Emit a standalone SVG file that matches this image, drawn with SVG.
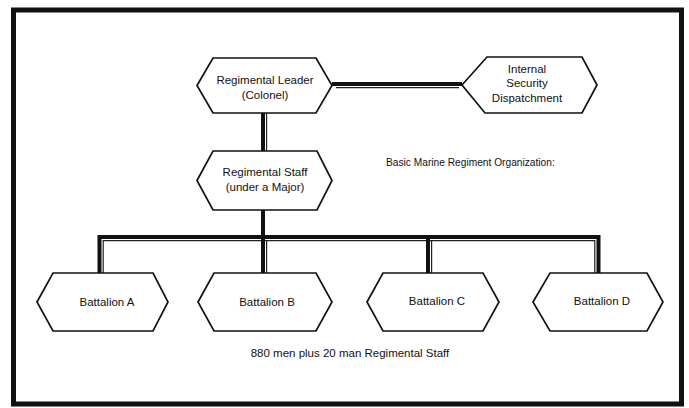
<svg xmlns="http://www.w3.org/2000/svg" width="689" height="408" viewBox="0 0 689 408">
<style>
.hex{fill:#fff;stroke:#111;stroke-width:1.7;stroke-linejoin:miter}
.t{font-family:"Liberation Sans",Arial,sans-serif;font-size:11.5px;fill:#111;text-anchor:middle}
.thick{stroke:#111;stroke-width:4;fill:none}
.thin{stroke:#222;stroke-width:1.2;fill:none}
</style>
<rect x="0" y="0" width="689" height="408" fill="#fff"/>
<rect x="13.5" y="10" width="668" height="394" fill="none" stroke="#111" stroke-width="5"/>
<g id="connectors">
<line class="thick" x1="332" y1="84" x2="462" y2="84"/>
<line class="thin" x1="336" y1="87.6" x2="459" y2="87.6"/>
<line class="thick" x1="263" y1="113" x2="263" y2="151"/>
<line class="thin" x1="266.6" y1="113" x2="266.6" y2="151"/>
<line class="thick" x1="263" y1="210" x2="263" y2="237"/>
<polyline class="thick" points="99.5,273 99.5,237 598.5,237 598.5,273"/>
<polyline class="thin" points="103.2,273 103.2,240.6 594.8,240.6 594.8,273"/>
<line class="thick" x1="263" y1="237" x2="263" y2="273"/>
<line class="thin" x1="266.6" y1="240.6" x2="266.6" y2="273"/>
<line class="thick" x1="428" y1="237" x2="428" y2="273"/>
<line class="thin" x1="431.6" y1="240.6" x2="431.6" y2="273"/>
</g>
<g id="leader">
<polygon class="hex" points="197,85.5 213,58 316,58 332,85.5 316,113 213,113"/>
<text class="t" x="265" y="84">Regimental Leader</text>
<text class="t" x="265" y="99">(Colonel)</text>
</g>
<g id="security">
<polygon class="hex" points="462,85 487,57 582,57 597,85 582,113 485,113"/>
<text class="t" x="527" y="72.5">Internal</text>
<text class="t" x="527" y="87">Security</text>
<text class="t" x="527" y="101.5">Dispatchment</text>
</g>
<g id="staff">
<polygon class="hex" points="197,180.5 213,151 317,151 332,180.5 317,210 213,210"/>
<text class="t" x="265" y="176">Regimental Staff</text>
<text class="t" x="265" y="191">(under a Major)</text>
</g>
<g id="title">
<text class="t" x="386" y="166" style="text-anchor:start;font-size:10.2px">Basic Marine Regiment Organization:</text>
</g>
<g id="battalionA">
<polygon class="hex" points="37,302 53,273 153,273 168,302 153,331 53,331"/>
<text class="t" x="107" y="306">Battalion A</text>
</g>
<g id="battalionB">
<polygon class="hex" points="198,302 214,273 316,273 332,302 316,331 214,331"/>
<text class="t" x="267" y="306">Battalion B</text>
</g>
<g id="battalionC">
<polygon class="hex" points="367,302 383,273 483,273 499,302 483,331 383,331"/>
<text class="t" x="437" y="305">Battalion C</text>
</g>
<g id="battalionD">
<polygon class="hex" points="533,302 550,273 647,273 663,302 647,331 550,331"/>
<text class="t" x="602" y="305">Battalion D</text>
</g>
<g id="note">
<text class="t" x="350" y="357">880 men plus 20 man Regimental Staff</text>
</g>
</svg>
